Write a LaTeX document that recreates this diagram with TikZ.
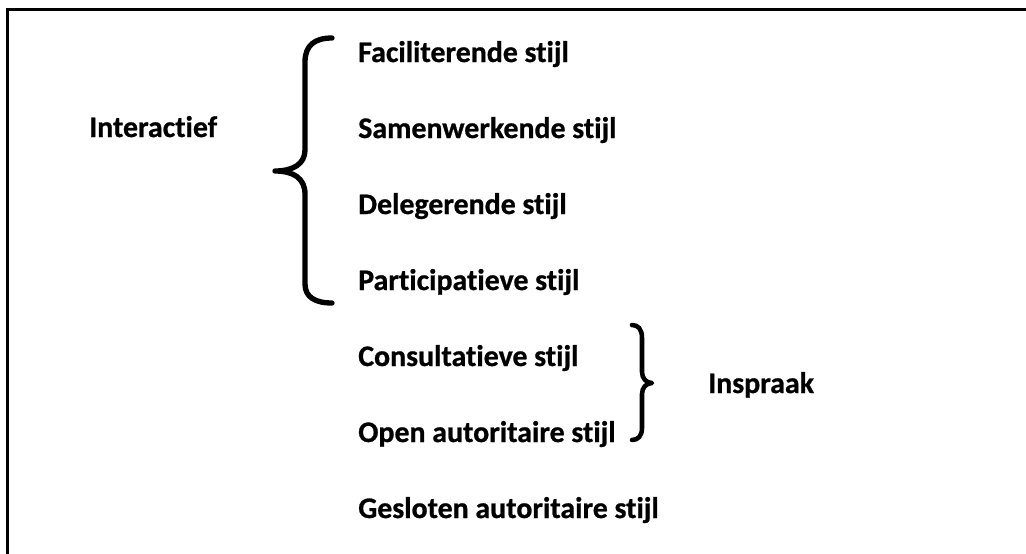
\documentclass[tikz,border=0pt]{standalone}
\usepackage{fontspec}
\setmainfont{Carlito}[Ligatures=NoCommon,BoldFeatures={FakeBold=0.8}]
\usepackage{tikz}

\tikzset{
    label/.style={anchor=base west,inner sep=0pt,font=\fontsize{22.4}{26}\selectfont\bfseries},
    curly/.style={line width=#1,line cap=round,line join=round}
}

\begin{document}
\begin{tikzpicture}[x=0.75pt,y=-0.75pt]
    \useasboundingbox (0,0) rectangle (1026,554);
    \draw[line width=1.6pt] (7.5,554) -- (7.5,9.5) -- (1026,9.5);

    \node[label] (interactief) at (89,137) {Interactief};

    \node[label] (facil) at (358,62) {Faciliterende stijl};
    \node[label] (samen) at (358,138) {Samenwerkende stijl};
    \node[label] (deleg) at (358,214) {Delegerende stijl};
    \node[label] (partic) at (358,290) {Participatieve stijl};
    \node[label] (consult) at (358,366) {Consultatieve stijl};
    \node[label] (open) at (358,442) {Open autoritaire stijl};
    \node[label] (gesloten) at (358,518) {Gesloten autoritaire stijl};

    \node[label] (inspraak) at (708,393) {Inspraak};

    % left brace
    \coordinate (lbtop) at (332,38);
    \coordinate (lbtip) at (275,171);
    \coordinate (lbbot) at (332,303);
    \draw[curly=4pt] (lbtop) .. controls (315,38) and (305,45) .. (305,62) -- (305,150)
        .. controls (305,164) and (293,171) .. (lbtip)
        .. controls (293,171) and (305,178) .. (305,194) -- (305,284)
        .. controls (305,297) and (315,303) .. (lbbot);

    % right brace
    \coordinate (rbtop) at (632,325);
    \coordinate (rbtip) at (652,383);
    \coordinate (rbbot) at (632,440);
    \draw[curly=3.4pt] (rbtop) .. controls (638,325) and (642,329) .. (642,338) -- (642,372)
        .. controls (642,378) and (646,383) .. (rbtip)
        .. controls (646,383) and (642,388) .. (642,394) -- (642,428)
        .. controls (642,436) and (638,440) .. (rbbot);
\end{tikzpicture}
\end{document}
